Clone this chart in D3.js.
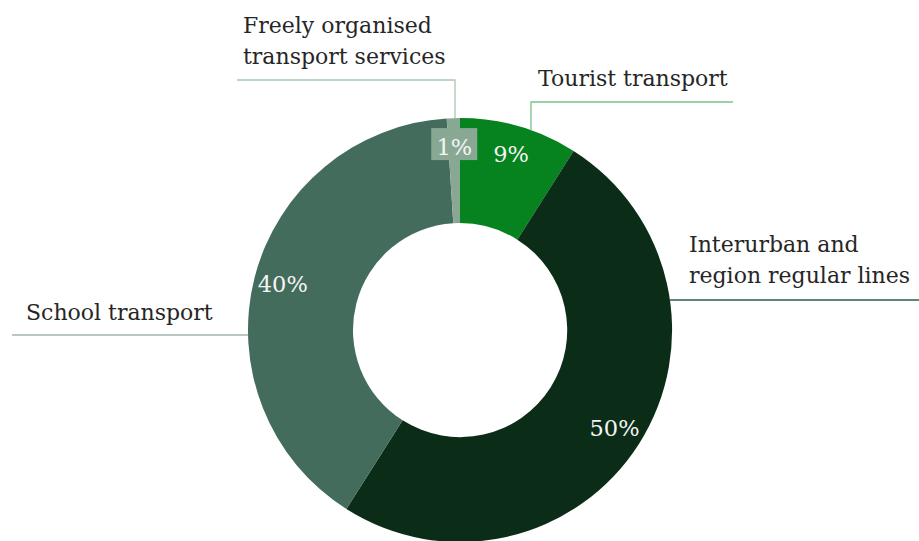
<!DOCTYPE html>
<html>
<head>
<meta charset="utf-8">
<script src="https://cdn.jsdelivr.net/npm/d3@7"></script>
<style>
  body { margin: 0; background: #fff; }
  text { font-family: "DejaVu Serif", serif; }
</style>
</head>
<body>
<svg id="chart" width="919" height="541"></svg>
<script>
// data
const categories = ['Tourist transport', 'Interurban and region regular lines', 'School transport', 'Freely organised transport services'];
const values = [9, 50, 40, 1];
const pctLabels = ['9%', '50%', '40%', '1%'];
const labelLines = [['Tourist transport'], ['Interurban and', 'region regular lines'], ['School transport'], ['Freely organised', 'transport services']];

const colors = ['#06821e', '#0b2c17', '#446c5c', '#88a894'];
const leaderColors = ['#79c288', '#2f5b40', '#a3b6ac', '#a9c7b1'];

let svg = d3.select('#chart'),
    cx = 460, cy = 330,
    outer = 212, inner = 107, labelR = 183;

let pie = d3.pie().sort(null).value(d => d.value);
let arc = d3.arc().innerRadius(inner).outerRadius(outer);
let labelArc = d3.arc().innerRadius(labelR).outerRadius(labelR);

let data = categories.map((c, i) => ({name: c, value: values[i], pct: pctLabels[i], lines: labelLines[i]}));
let arcs = pie(data);

let g = svg.append('g').attr('transform', 'translate(' + cx + ',' + cy + ')');

g.selectAll('.slice')
    .data(arcs)
    .enter()
    .append('path')
    .attr('class', 'slice')
    .attr('d', arc)
    .attr('fill', (d, i) => colors[i]);

// percentage labels
let pct = g.selectAll('.pct')
    .data(arcs)
    .enter()
    .append('g')
    .attr('class', 'pct')
    .attr('transform', d => 'translate(' + labelArc.centroid(d) + ')');

pct.filter(d => d.data.value < 3)
    .append('rect')
    .attr('x', -23).attr('y', -19)
    .attr('width', 46).attr('height', 32)
    .attr('fill', colors[3]);

pct.append('text')
    .attr('text-anchor', 'middle')
    .attr('dy', '0.35em')
    .attr('fill', '#f4f4f4')
    .style('font-size', '22.5px')
    .text(d => d.data.pct);

// outside labels with leader lines (layout in pixels)
let layout = [
    {x: 538, y: 86, lineY: 102, x0: 531, x1: 733, vertical: true},
    {x: 689, y: 252, lineY: 300, x0: null, x1: 919},
    {x: 26, y: 320, lineY: 335, x0: 12, x1: null},
    {x: 243, y: 33, lineY: 80, x0: 237, x1: 455, vertical: true}
];

function edgeX(y, side) {
    let dy = y - cy;
    let dx = Math.sqrt(outer * outer - dy * dy);
    return side === 'right' ? cx + dx : cx - dx;
}
function edgeY(x) {
    let dx = x - cx;
    return cy - Math.sqrt(outer * outer - dx * dx);
}

layout.forEach((l, i) => {
    let col = leaderColors[i];
    if (l.vertical) {
        let vx = i === 0 ? l.x0 : l.x1;
        let hx = i === 0 ? l.x1 : l.x0;
        svg.append('polyline')
            .attr('points', [[hx, l.lineY], [vx, l.lineY], [vx, edgeY(vx)]].join(' '))
            .attr('fill', 'none')
            .attr('stroke', col)
            .attr('stroke-width', 1.3);
    } else {
        let a = l.x0 === null ? edgeX(l.lineY, 'right') : l.x0;
        let b = l.x1 === null ? edgeX(l.lineY, 'left') : l.x1;
        svg.append('line')
            .attr('x1', a).attr('x2', b)
            .attr('y1', l.lineY).attr('y2', l.lineY)
            .attr('stroke', col)
            .attr('stroke-width', 1.3);
    }
    let t = svg.append('text')
        .attr('x', l.x)
        .attr('y', l.y)
        .attr('fill', '#262626')
        .style('font-size', '22px');
    data[i].lines.forEach((s, j) => {
        t.append('tspan').attr('x', l.x).attr('dy', j === 0 ? 0 : 31).text(s);
    });
});
</script>
</body>
</html>
